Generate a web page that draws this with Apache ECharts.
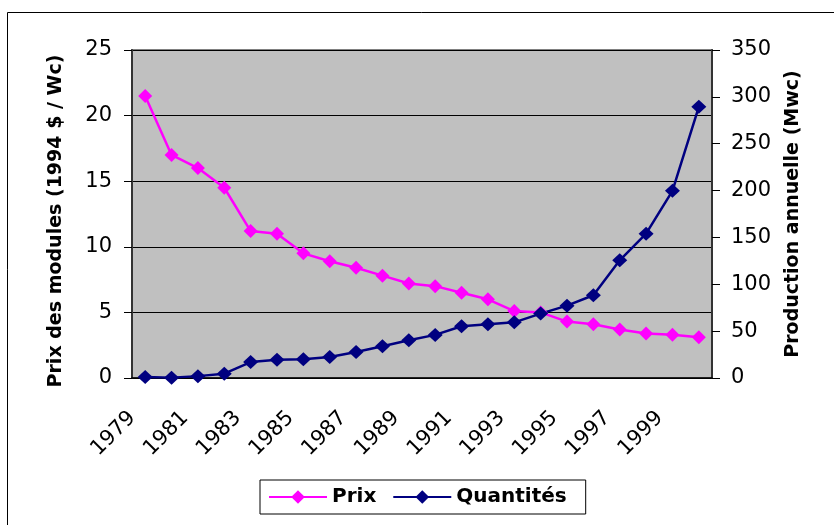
<!DOCTYPE html>
<html>
<head>
<meta charset="utf-8">
<script src="https://cdn.jsdelivr.net/npm/echarts@6/dist/echarts.min.js"></script>
<style>
  html, body { margin: 0; padding: 0; background: #fff; }
  #chart { width: 834px; height: 525px; }
</style>
</head>
<body>
<div id="chart"></div>
<script>
// années (catégories)
const years = ["1979", "1980", "1981", "1982", "1983", "1984", "1985", "1986", "1987", "1988", "1989",
  "1990", "1991", "1992", "1993", "1994", "1995", "1996", "1997", "1998", "1999", "2000"];

// prix des modules (1994 $ / Wc) - axe gauche
const prix = [21.5, 17.0, 16.0, 14.5, 11.2, 11.0, 9.5, 8.9, 8.4, 7.8, 7.2,
  7.0, 6.5, 6.0, 5.1, 5.0, 4.3, 4.1, 3.7, 3.4, 3.3, 3.1];

// production annuelle (Mwc) - axe droit
const quantites = [1, 0.4, 2, 4.6, 17, 19.6, 20, 22.4, 27.8, 33.8, 40.2,
  46, 55.2, 57.3, 59.4, 68.7, 77.2, 88.3, 125.6, 154, 199.7, 289.4];

const leftTicks = [0, 5, 10, 15, 20, 25];
const rightTicks = [0, 50, 100, 150, 200, 250, 300, 350];

const FONT = "DejaVu Sans";

const chart = echarts.init(document.getElementById("chart"), null, { renderer: "canvas" });

chart.setOption({
  backgroundColor: "#fff",
  animation: false,
  textStyle: { fontFamily: FONT },
  graphic: [
    {
      type: "rect",
      silent: true,
      z: -10,
      shape: { x: 7.5, y: 12.5, width: 900, height: 600 },
      style: { fill: "none", stroke: "#000", lineWidth: 1 },
    },
  ],
  grid: {
    left: 132,
    right: 122,
    top: 50,
    bottom: 147,
    show: true,
    backgroundColor: "#C0C0C0",
    borderColor: "#808080",
    borderWidth: 2,
  },
  legend: {
    data: ["Prix", "Quantités"],
    left: 260,
    top: 480,
    itemWidth: 58,
    itemHeight: 17,
    itemGap: 16,
    borderColor: "#000",
    borderWidth: 1,
    borderRadius: 0,
    padding: [7, 19, 7, 8],
    textStyle: { fontFamily: FONT, fontSize: 20, fontWeight: "bold", color: "#000" },
  },
  xAxis: {
    type: "category",
    data: years,
    boundaryGap: true,
    axisLine: { lineStyle: { color: "#000", width: 1.5 } },
    axisTick: { interval: 0, length: 7, lineStyle: { color: "#000" } },
    axisLabel: {
      interval: 1,
      rotate: 45,
      margin: 24,
      padding: [0, 18, 0, 0],
      fontFamily: FONT,
      fontSize: 21,
      color: "#000",
    },
  },
  yAxis: [
    {
      type: "value",
      min: leftTicks[0],
      max: leftTicks[leftTicks.length - 1],
      interval: leftTicks[1] - leftTicks[0],
      name: "Prix des modules (1994 $ / Wc)",
      nameLocation: "middle",
      nameRotate: 90,
      nameGap: 66,
      nameTextStyle: { fontFamily: FONT, fontSize: 19, fontWeight: "bold", color: "#000", padding: [0, 14, 0, 0] },
      axisLine: { show: true, lineStyle: { color: "#333", width: 2 } },
      axisTick: { show: true, length: 8, lineStyle: { color: "#000" } },
      axisLabel: { margin: 20, fontFamily: FONT, fontSize: 21, color: "#000" },
      splitLine: { show: true, lineStyle: { color: "#000", width: 1 } },
    },
    {
      type: "value",
      min: rightTicks[0],
      max: rightTicks[rightTicks.length - 1],
      interval: rightTicks[1] - rightTicks[0],
      name: "Production annuelle (Mwc)",
      nameLocation: "middle",
      nameRotate: 90,
      nameGap: 72,
      nameTextStyle: { fontFamily: FONT, fontSize: 19, fontWeight: "bold", color: "#000" },
      axisLine: { show: true, lineStyle: { color: "#333", width: 2 } },
      axisTick: { show: true, length: 8, lineStyle: { color: "#000" } },
      axisLabel: { margin: 19, fontFamily: FONT, fontSize: 21, color: "#000" },
      splitLine: { show: false },
    },
  ],
  series: [
    {
      name: "Prix",
      type: "line",
      yAxisIndex: 0,
      data: prix,
      symbol: "diamond",
      symbolSize: [14, 14],
      showAllSymbol: true,
      color: "#FF00FF",
      lineStyle: { color: "#FF00FF", width: 2.5 },
      itemStyle: { color: "#FF00FF" },
    },
    {
      name: "Quantités",
      type: "line",
      yAxisIndex: 1,
      data: quantites,
      symbol: "diamond",
      symbolSize: [15, 14],
      showAllSymbol: true,
      color: "#000080",
      lineStyle: { color: "#000080", width: 2.5 },
      itemStyle: { color: "#000080" },
    },
  ],
});
</script>
</body>
</html>
